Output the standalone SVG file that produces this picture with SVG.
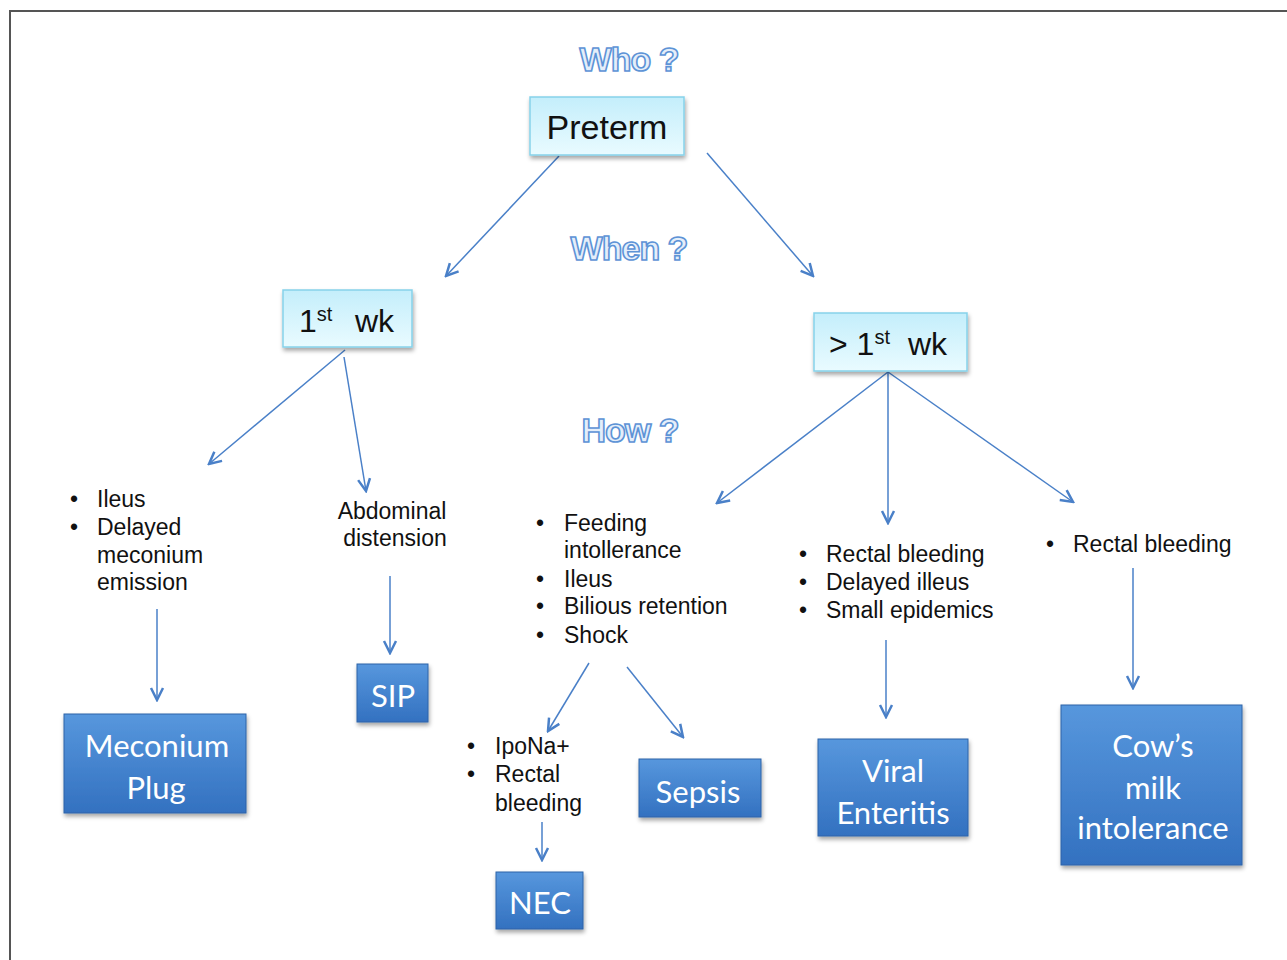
<svg xmlns="http://www.w3.org/2000/svg" width="1287" height="960" viewBox="0 0 1287 960">
<defs>
<linearGradient id="lg" x1="0" y1="0" x2="0" y2="1"><stop offset="0" stop-color="#c4eefb"/><stop offset="1" stop-color="#e9fbff"/></linearGradient>
<linearGradient id="bg" x1="0" y1="0" x2="0" y2="1"><stop offset="0" stop-color="#5797dd"/><stop offset="1" stop-color="#3371c0"/></linearGradient>
<filter id="sh" x="-10%" y="-10%" width="130%" height="140%"><feDropShadow dx="1" dy="3" stdDeviation="2" flood-color="#000" flood-opacity="0.35"/></filter>
<marker id="ah" viewBox="0 0 16 16" refX="14" refY="8" markerWidth="16" markerHeight="16" markerUnits="userSpaceOnUse" orient="auto"><path d="M2,2 L14,8 L2,14" fill="none" stroke="#4a80c8" stroke-width="2.5"/></marker>
</defs>
<style>
.lt{fill:url(#lg);stroke:#86d2ea;stroke-width:1.5;filter:url(#sh)}
.bl{fill:url(#bg);stroke:#2f63a8;stroke-width:1;filter:url(#sh)}
.c{stroke:#4a80c8;stroke-width:1.5;fill:none;marker-end:url(#ah)}
.q{font-family:"Liberation Sans",Arial,sans-serif;font-size:34px;font-weight:bold;fill:#e4eefa;stroke:#5d93d6;stroke-width:1.6;text-anchor:middle;letter-spacing:-1px}
.t{font-family:"Liberation Sans",Arial,sans-serif;font-size:23px;fill:#111}
.k{font-family:"Liberation Sans",Arial,sans-serif;fill:#111}
.w{font-family:Lato,"Open Sans",sans-serif;font-size:31px;fill:#fff;text-anchor:middle}
</style>
<rect width="1287" height="960" fill="#fff"/>
<path d="M10,960 V11 H1287" fill="none" stroke="#555" stroke-width="2"/>
<g id="labels">
<text class="q" x="629" y="71">Who ?</text>
<text class="q" x="629" y="260">When ?</text>
<text class="q" x="630" y="442">How ?</text>
</g>
<g id="connectors">
<line class="c" x1="559" y1="156" x2="446" y2="276"/>
<line class="c" x1="707" y1="153" x2="813" y2="276"/>
<line class="c" x1="345" y1="350" x2="209" y2="464"/>
<line class="c" x1="344" y1="357" x2="366" y2="491"/>
<line class="c" x1="157" y1="609" x2="157" y2="700"/>
<line class="c" x1="390" y1="576" x2="390" y2="653"/>
<line class="c" x1="888" y1="372" x2="717" y2="503"/>
<line class="c" x1="888" y1="372" x2="888" y2="523"/>
<line class="c" x1="888" y1="372" x2="1073" y2="502"/>
<line class="c" x1="886" y1="640" x2="886" y2="717"/>
<line class="c" x1="1133" y1="568" x2="1133" y2="688"/>
<line class="c" x1="589" y1="663" x2="548" y2="731"/>
<line class="c" x1="627" y1="667" x2="683" y2="737"/>
<line class="c" x1="542" y1="822" x2="542" y2="860"/>
</g>
<g id="preterm">
<rect class="lt" x="530" y="97" width="154" height="58"/>
<text class="k" x="607" y="139" font-size="34" text-anchor="middle">Preterm</text>
</g>
<g id="wk1">
<rect class="lt" x="283" y="290" width="129" height="57"/>
<text class="k" x="299" y="332" font-size="32">1<tspan font-size="20" dy="-11">st</tspan><tspan dy="11" x="355">wk</tspan></text>
</g>
<g id="wk1plus">
<rect class="lt" x="814" y="313" width="153" height="58"/>
<text class="k" x="829" y="355" font-size="32">&gt; 1<tspan font-size="20" dy="-11">st</tspan><tspan dy="11" x="908">wk</tspan></text>
</g>
<g id="list-ileus">
<text class="t" x="70" y="507">•</text><text class="t" x="97" y="507">Ileus</text>
<text class="t" x="70" y="535">•</text><text class="t" x="97" y="535">Delayed</text>
<text class="t" x="97" y="563">meconium</text>
<text class="t" x="97" y="590">emission</text>
</g>
<g id="abdominal">
<text class="t" x="392" y="519" text-anchor="middle">Abdominal</text>
<text class="t" x="395" y="546" text-anchor="middle">distension</text>
</g>
<g id="list-feeding">
<text class="t" x="536" y="531">•</text><text class="t" x="564" y="531">Feeding</text>
<text class="t" x="564" y="558">intollerance</text>
<text class="t" x="536" y="587">•</text><text class="t" x="564" y="587">Ileus</text>
<text class="t" x="536" y="614">•</text><text class="t" x="564" y="614">Bilious retention</text>
<text class="t" x="536" y="643">•</text><text class="t" x="564" y="643">Shock</text>
</g>
<g id="list-rectal">
<text class="t" x="799" y="562">•</text><text class="t" x="826" y="562">Rectal bleeding</text>
<text class="t" x="799" y="590">•</text><text class="t" x="826" y="590">Delayed illeus</text>
<text class="t" x="799" y="618">•</text><text class="t" x="826" y="618">Small epidemics</text>
</g>
<g id="list-rectal2">
<text class="t" x="1046" y="552">•</text><text class="t" x="1073" y="552">Rectal bleeding</text>
</g>
<g id="list-ipona">
<text class="t" x="467" y="754">•</text><text class="t" x="495" y="754">IpoNa+</text>
<text class="t" x="467" y="782">•</text><text class="t" x="495" y="782">Rectal</text>
<text class="t" x="495" y="811">bleeding</text>
</g>
<g id="meconium">
<rect class="bl" x="64" y="714" width="182" height="99"/>
<text class="w" x="157" y="757">Meconium</text>
<text class="w" x="156" y="799">Plug</text>
</g>
<g id="sip">
<rect class="bl" x="357" y="664" width="71" height="58"/>
<text class="w" x="393" y="707" font-size="29">SIP</text>
</g>
<g id="nec">
<rect class="bl" x="496" y="872" width="87" height="57"/>
<text class="w" x="540" y="914" font-size="29">NEC</text>
</g>
<g id="sepsis">
<rect class="bl" x="639" y="759" width="122" height="58"/>
<text class="w" x="698" y="803">Sepsis</text>
</g>
<g id="viral">
<rect class="bl" x="818" y="739" width="150" height="97"/>
<text class="w" x="893" y="782">Viral</text>
<text class="w" x="893" y="824">Enteritis</text>
</g>
<g id="cows">
<rect class="bl" x="1061" y="705" width="181" height="160"/>
<text class="w" x="1153" y="757">Cow’s</text>
<text class="w" x="1153" y="799">milk</text>
<text class="w" x="1153" y="839">intolerance</text>
</g>
</svg>
